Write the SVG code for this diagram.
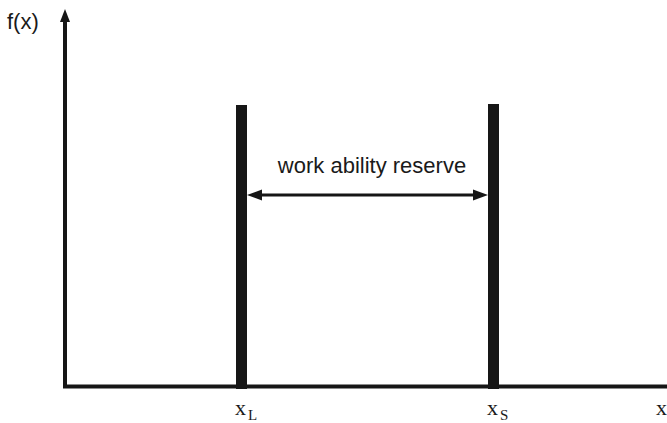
<svg xmlns="http://www.w3.org/2000/svg" width="667" height="423" viewBox="0 0 667 423">
<style>
.sans{font-family:"Liberation Sans",Arial,sans-serif;fill:#1a1a1a}
.serif{font-family:"Liberation Serif","Times New Roman",serif;fill:#1a1a1a}
.bar{fill:#161616}
.ax{stroke:#161616;stroke-width:4;fill:none}
.head{fill:#161616}
</style>
<g id="connectors">
<line class="ax" x1="65" y1="388" x2="65" y2="20"/>
<path class="head" d="M60,22 L65,9 L70,22 z"/>
<line class="ax" x1="63" y1="386.5" x2="667" y2="386.5"/>
<line x1="258" y1="195" x2="478" y2="195" stroke="#161616" stroke-width="3"/>
<path class="head" d="M247,195 L262,189.5 L262,200.5 z"/>
<path class="head" d="M488,195 L473,189.5 L473,200.5 z"/>
</g>
<g id="bar-left"><rect class="bar" x="236" y="105" width="11" height="284"/></g>
<g id="bar-right"><rect class="bar" x="488" y="104" width="11" height="285"/></g>
<g id="label-fx"><text class="sans" x="7" y="29" font-size="22">f(x)</text></g>
<g id="label-reserve"><text class="sans" x="372" y="173" font-size="22" text-anchor="middle">work ability reserve</text></g>
<g id="label-xL"><text class="serif" x="235" y="415" font-size="22">x<tspan font-size="15" dx="2" dy="5">L</tspan></text></g>
<g id="label-xS"><text class="serif" x="487" y="415" font-size="22">x<tspan font-size="15" dx="2" dy="5">S</tspan></text></g>
<g id="label-x"><text class="serif" x="656" y="415" font-size="22">x</text></g>
</svg>
